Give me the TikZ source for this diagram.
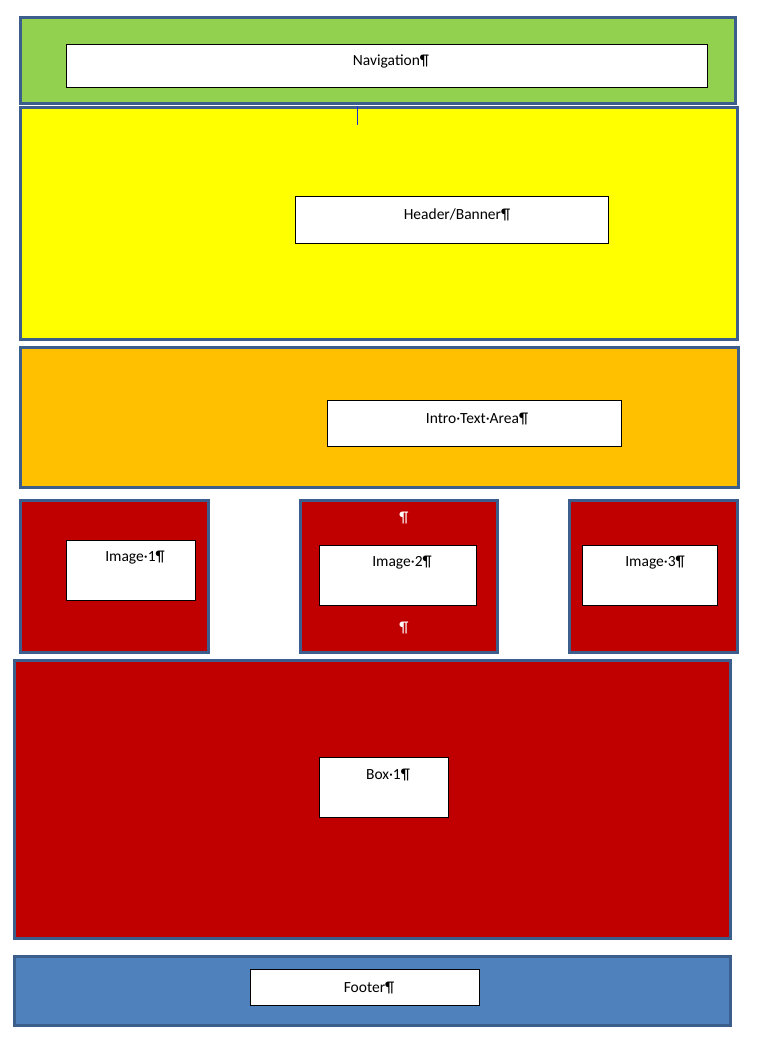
\documentclass[tikz,border=0pt]{standalone}
\usepackage{fontspec}
\setmainfont{Carlito}
\definecolor{outline}{HTML}{3B5E8C}
\definecolor{navgreen}{HTML}{92D050}
\definecolor{bannery}{HTML}{FFFF00}
\definecolor{introor}{HTML}{FFC000}
\definecolor{boxred}{HTML}{C00000}
\definecolor{footblue}{HTML}{4F81BD}
\definecolor{cursor}{HTML}{1F2FD0}
\begin{document}
\begin{tikzpicture}[x=1pt,y=-1pt,
  panel/.style={draw=outline,line width=3pt,rectangle,inner sep=0pt,anchor=north west},
  slot/.style={draw=black,fill=white,line width=1pt,rectangle,inner sep=0pt,anchor=north west},
  lbl/.style={font=\fontsize{15.5}{17}\selectfont,inner sep=0pt,anchor=center}]
  \useasboundingbox (0,0) rectangle (766,1057);
  \fill[white] (0,0) rectangle (766,1057);

  % page sections (placed by the outer edge of the 3pt outline)
  \node[panel,fill=navgreen,minimum width=715,minimum height=86] (nav) at (19,16) {};
  \node[panel,fill=bannery,minimum width=717,minimum height=232] (banner) at (19,106) {};
  \node[panel,fill=introor,minimum width=718,minimum height=140] (intro) at (19,346) {};
  \node[panel,fill=boxred,minimum width=188,minimum height=152] (img1) at (19,499) {};
  \node[panel,fill=boxred,minimum width=197,minimum height=152] (img2) at (299,499) {};
  \node[panel,fill=boxred,minimum width=168,minimum height=152] (img3) at (568,499) {};
  \node[panel,fill=boxred,minimum width=716,minimum height=278] (box1) at (13,659) {};
  \node[panel,fill=footblue,minimum width=716,minimum height=69] (footer) at (13,955) {};

  % text cursor in the banner
  \coordinate (caretA) at (357,106);
  \coordinate (caretB) at (357,125);
  \draw[cursor,line width=0.8pt] (caretA) -- (caretB);

  % white content slots
  \node[slot,minimum width=641,minimum height=43] (navslot) at (66,44) {};
  \node[slot,minimum width=313,minimum height=47] (bannerslot) at (295,196) {};
  \node[slot,minimum width=294,minimum height=46] (introslot) at (327,400) {};
  \node[slot,minimum width=129,minimum height=60] (img1slot) at (66,540) {};
  \node[slot,minimum width=157,minimum height=60] (img2slot) at (319,545) {};
  \node[slot,minimum width=135,minimum height=60] (img3slot) at (582,545) {};
  \node[slot,minimum width=129,minimum height=60] (box1slot) at (319,757) {};
  \node[slot,minimum width=229,minimum height=36] (footslot) at (250,969) {};

  % labels
  \node[lbl] (navtxt) at (391,61.5) {Navigation¶};
  \node[lbl] (bannertxt) at (457,214.5) {Header/Banner¶};
  \node[lbl] (introtxt) at (477,418.5) {Intro·Text·Area¶};
  \node[lbl] (img1txt) at (135,557.5) {Image·1¶};
  \node[lbl] (img2txt) at (402,562.5) {Image·2¶};
  \node[lbl] (img3txt) at (655,562.5) {Image·3¶};
  \node[lbl] (box1txt) at (388,774.5) {Box·1¶};
  \node[lbl] (foottxt) at (369,987.5) {Footer¶};
  \node[lbl,text=white] (img2top) at (404,518) {¶};
  \node[lbl,text=white] (img2bot) at (404,628) {¶};
\end{tikzpicture}
\end{document}
